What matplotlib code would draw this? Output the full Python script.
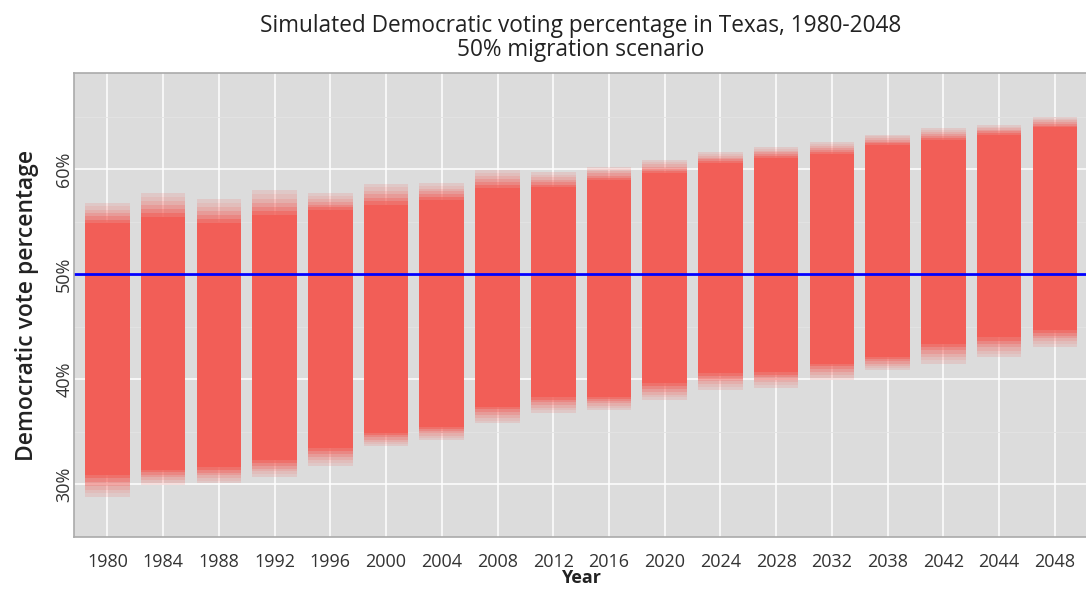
import numpy as np
import matplotlib
matplotlib.use("Agg")
from matplotlib import pyplot as plt
from matplotlib.ticker import FixedLocator

years = ["1980", "1984", "1988", "1992", "1996", "2000", "2004", "2008", "2012",
         "2016", "2020", "2024", "2028", "2032", "2038", "2042", "2044", "2048"]
# dense part of each simulated column (%)
dense_low = [30.9, 31.4, 31.6, 32.3, 33.5, 34.9, 35.5, 37.4, 38.3,
             38.3, 39.6, 40.6, 40.7, 41.5, 42.1, 43.4, 44.0, 44.7]
dense_high = [54.9, 55.5, 54.9, 55.6, 56.1, 56.6, 57.1, 58.2, 58.3,
              59.0, 59.6, 60.6, 61.1, 61.5, 62.3, 62.8, 63.3, 64.0]
# sparse tails of each column (%)
tail_low = [28.8, 29.9, 30.1, 30.7, 31.7, 33.6, 34.2, 35.8, 36.8,
            37.1, 38.0, 39.0, 39.2, 39.9, 40.9, 41.5, 42.1, 43.1]
tail_high = [56.8, 57.7, 57.2, 58.0, 57.7, 58.6, 58.7, 59.9, 59.7,
             60.2, 60.9, 61.6, 62.1, 62.6, 63.3, 63.9, 64.2, 65.0]

red = "#F25E57"
pos = np.arange(1, len(years) + 1)
dl = np.array(dense_low)
dh = np.array(dense_high)
tl = np.array(tail_low)
th = np.array(tail_high)

plt.rcParams["font.family"] = ["Open Sans", "DejaVu Sans"]
fig = plt.figure(figsize=(10.86, 5.89), dpi=100)
ax = fig.add_axes([0.0681, 0.0878, 0.934, 0.7888])
ax.set_facecolor("#DCDCDC")

# grid
ax.yaxis.set_minor_locator(FixedLocator([35, 45, 55, 65]))
ax.grid(True, which="major", color="white", lw=1.1)
ax.grid(True, which="minor", axis="y", color="#E4E4E4", lw=0.6)
ax.set_axisbelow(True)

# sparse tails: fade out from the dense edge
steps = 6
for i in range(steps):
    f0, f1 = i / steps, (i + 1) / steps
    a = 0.75 * (1 - f0) ** 1.5 + 0.1
    lo0 = dl - (dl - tl) * f0
    lo1 = dl - (dl - tl) * f1
    hi0 = dh + (th - dh) * f0
    hi1 = dh + (th - dh) * f1
    ax.bar(pos, lo0 - lo1, bottom=lo1, width=0.8, color=red, alpha=a, lw=0)
    ax.bar(pos, hi1 - hi0, bottom=hi0, width=0.8, color=red, alpha=a, lw=0)
# dense body
ax.bar(pos, dh - dl, bottom=dl, width=0.8, color=red, lw=0)

ax.axhline(50, color="#0000FF", lw=2)

ax.set_xlim(0.4, 18.6)
ax.set_ylim(24.95, 69.2)
ax.set_xticks(pos)
ax.set_xticklabels(years, fontsize=13, color="#333333")
ax.set_yticks([30, 40, 50, 60])
ax.set_yticklabels(["30%", "40%", "50%", "60%"], fontsize=13, color="#333333",
                   rotation=90, va="center")
ax.tick_params(axis="x", which="both", length=0, pad=11)
ax.tick_params(axis="y", which="both", length=0, pad=0.5)
for s in ax.spines.values():
    s.set_color("#AAAAAA")
    s.set_linewidth(1.2)

ax.set_xlabel("Year", fontsize=13, fontweight="bold", color="#222222", labelpad=-1)
ax.set_ylabel("Democratic vote percentage", fontsize=16.5, fontweight="semibold",
              color="#222222", labelpad=12)
ax.set_title("Simulated Democratic voting percentage in Texas, 1980-2048\n50% migration scenario",
             fontsize=16.3, color="#222222", linespacing=1.0, pad=12)

fig.savefig("out.png", dpi=100)
